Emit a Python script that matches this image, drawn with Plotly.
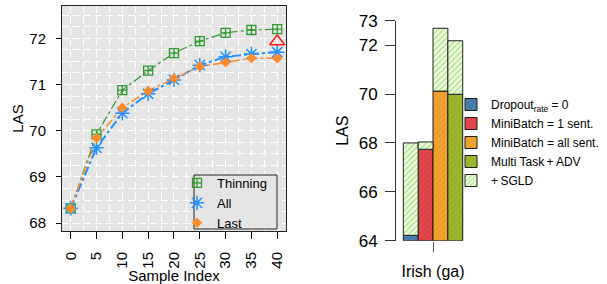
import plotly.graph_objects as go

# ---- Left panel data ----
sample_index = [0, 5, 10, 15, 20, 25, 30, 35, 40]
thinning = [68.32, 69.92, 70.88, 71.30, 71.68, 71.94, 72.12, 72.18, 72.20]
all_samples = [68.32, 69.63, 70.38, 70.80, 71.10, 71.42, 71.60, 71.66, 71.70]
last = [68.32, 69.84, 70.50, 70.86, 71.13, 71.39, 71.48, 71.57, 71.57]
ref_x = [40]
ref_y = [71.93]

# ---- Right panel data ----
bar_names = ["Dropout<sub>rate</sub> = 0", "MiniBatch = 1 sent.", "MiniBatch = all sent.",
             "Multi Task\u2009+\u2009ADV"]
bar_base_values = [64.22, 67.74, 70.12, 69.99]
bar_sgld_totals = [68.00, 68.04, 72.69, 72.18]
bar_colors = ["#4a7fab", "#e2474b", "#f0a32e", "#9cb82e"]
bar_pattern_fg = ["#2f5f86", "#b82d31", "#c47d12", "#768e16"]
sgld_name = "+\u2009SGLD"
category = ["Irish (ga)"]
y_floor = 64

FONT = "Liberation Sans, Arial, sans-serif"
W, H = 607, 284
GRID_DASH = "7px,4px"

fig = go.Figure()

# lines (no legend)
fig.add_trace(go.Scatter(x=sample_index, y=thinning, mode="lines",
                         line=dict(color="#2e9a2e", width=1.2, dash="dashdot"),
                         showlegend=False, xaxis="x", yaxis="y"))
fig.add_trace(go.Scatter(x=sample_index, y=all_samples, mode="lines",
                         line=dict(color="#2090ff", width=2, dash="dashdot"),
                         showlegend=False, xaxis="x", yaxis="y"))
fig.add_trace(go.Scatter(x=sample_index, y=last, mode="lines",
                         line=dict(color="#ff8a2a", width=1.5, dash="dashdot"),
                         showlegend=False, xaxis="x", yaxis="y"))
# markers (legend)
fig.add_trace(go.Scatter(x=sample_index, y=thinning, mode="markers", name="Thinning",
                         marker=dict(symbol="square-cross-open", size=9, color="#2e9a2e",
                                     line=dict(width=1.3, color="#2e9a2e")),
                         legend="legend", xaxis="x", yaxis="y"))
fig.add_trace(go.Scatter(x=sample_index, y=all_samples, mode="markers", name="All",
                         marker=dict(symbol="asterisk-open", size=12, color="#2090ff",
                                     line=dict(width=1.5, color="#2090ff")),
                         legend="legend", xaxis="x", yaxis="y"))
fig.add_trace(go.Scatter(x=sample_index, y=last, mode="markers", name="Last",
                         marker=dict(symbol="diamond", size=8, color="#ff8a2a"),
                         legend="legend", xaxis="x", yaxis="y"))
fig.add_trace(go.Scatter(x=ref_x, y=ref_y, mode="markers", showlegend=False,
                         marker=dict(symbol="triangle-up-open", size=13, color="#ff1a1a",
                                     line=dict(width=1.5, color="#ff1a1a")),
                         xaxis="x", yaxis="y"))

# bars
for i, name in enumerate(bar_names):
    fig.add_trace(go.Bar(
        x=[i], y=[bar_base_values[i] - y_floor], base=[y_floor], width=1, name=name,
        marker=dict(color=bar_colors[i], line=dict(color="#1a1a1a", width=1),
                    pattern=dict(shape="/", fgcolor=bar_pattern_fg[i], fgopacity=0.35,
                                 size=4, solidity=0.25)),
        legend="legend2", xaxis="x2", yaxis="y2"))
fig.add_trace(go.Bar(
    x=list(range(len(bar_names))),
    y=[t - b for t, b in zip(bar_sgld_totals, bar_base_values)],
    base=bar_base_values, width=1, name=sgld_name,
    marker=dict(color="#ffffff", line=dict(color="#222222", width=1),
                pattern=dict(shape="/", fgcolor="#7cd62e", bgcolor="#ffffff",
                             size=4, solidity=0.6, fillmode="overlay")),
    legend="legend2", xaxis="x2", yaxis="y2"))

# panel geometry (pixels)
lx0, lx1, ly_top, ly_bot = 62, 286, 6, 231
rx0, rx1, ry_top, ry_bot = 396, 470, 20.7, 240.7

fig.update_layout(
    width=W, height=H, margin=dict(l=0, r=0, t=0, b=0, autoexpand=False),
    paper_bgcolor="white", plot_bgcolor="white",
    font=dict(family=FONT, size=15, color="black"),
    barmode="overlay",
    xaxis=dict(domain=[lx0 / W, lx1 / W], range=[-1.68, 41.7],
               tickvals=sample_index, ticktext=[str(v) for v in sample_index],
               tickangle=-90, ticks="outside", ticklen=7, tickcolor="black",
               ticklabelstandoff=7, tickfont=dict(size=15),
               showgrid=True, gridcolor="white", griddash=GRID_DASH, gridwidth=1.2,
               minor=dict(dtick=2.5, tick0=0, showgrid=True, gridcolor="white",
                          griddash=GRID_DASH, gridwidth=1.2, ticks=""),
               showline=True, linecolor="#222", linewidth=1, mirror=True,
               zeroline=False, anchor="y",
               title=dict(text="Sample Index", font=dict(size=15), standoff=0)),
    yaxis=dict(domain=[(H - ly_bot) / H, (H - ly_top) / H], range=[67.83, 72.70],
               tickvals=[68, 69, 70, 71, 72], ticks="outside", ticklen=5, tickcolor="black",
               ticklabelstandoff=7, tickfont=dict(size=15),
               showgrid=True, gridcolor="white", griddash=GRID_DASH, gridwidth=1.2,
               minor=dict(dtick=0.25, tick0=68, showgrid=True, gridcolor="white",
                          griddash=GRID_DASH, gridwidth=1.2, ticks=""),
               showline=True, linecolor="#222", linewidth=1, mirror=True,
               zeroline=False, anchor="x",
               title=dict(text="LAS", font=dict(size=15), standoff=2)),
    xaxis2=dict(domain=[rx0 / W, rx1 / W], range=[-0.9916, 3.99],
                tickvals=[1.5], ticktext=category, ticks="outside", ticklen=10,
                tickcolor="#555", tickwidth=1.2, ticklabelstandoff=6,
                tickfont=dict(size=16),
                showgrid=False, zeroline=False, showline=False, anchor="y2"),
    yaxis2=dict(domain=[(H - ry_bot) / H, (H - ry_top) / H], range=[64, 73],
                tickvals=[64, 66, 68, 70, 72, 73], ticks="outside", ticklen=10,
                tickcolor="#333", ticklabelstandoff=4, tickfont=dict(size=17),
                showgrid=False, zeroline=False, showline=True, linecolor="#333",
                linewidth=1, anchor="x2",
                title=dict(text="LAS", font=dict(size=16), standoff=6)),
    legend=dict(x=177 / W, xanchor="left", y=(H - 168) / H, yanchor="top",
                bgcolor="rgba(0,0,0,0)", borderwidth=0, font=dict(size=13),
                tracegroupgap=0),
    legend2=dict(x=451 / W, xanchor="left", y=(H - 90) / H, yanchor="top",
                 bgcolor="rgba(0,0,0,0)", borderwidth=0, font=dict(size=12),
                 tracegroupgap=0, traceorder="normal"),
    shapes=[dict(type="rect", xref="paper", yref="paper",
                 x0=194 / W, x1=277 / W, y0=(H - 229) / H, y1=(H - 175) / H,
                 fillcolor="#e5e5e5", line=dict(color="#222", width=1), layer="above")],
)

# grey plot background only for left panel
fig.add_shape(type="rect", xref="x domain", yref="y domain", x0=0, x1=1, y0=0, y1=1,
              fillcolor="#e5e5e5", line=dict(width=0), layer="below")

fig.write_html("out.html", config={"displayModeBar": False},
               post_script="document.body.style.margin='0';")
